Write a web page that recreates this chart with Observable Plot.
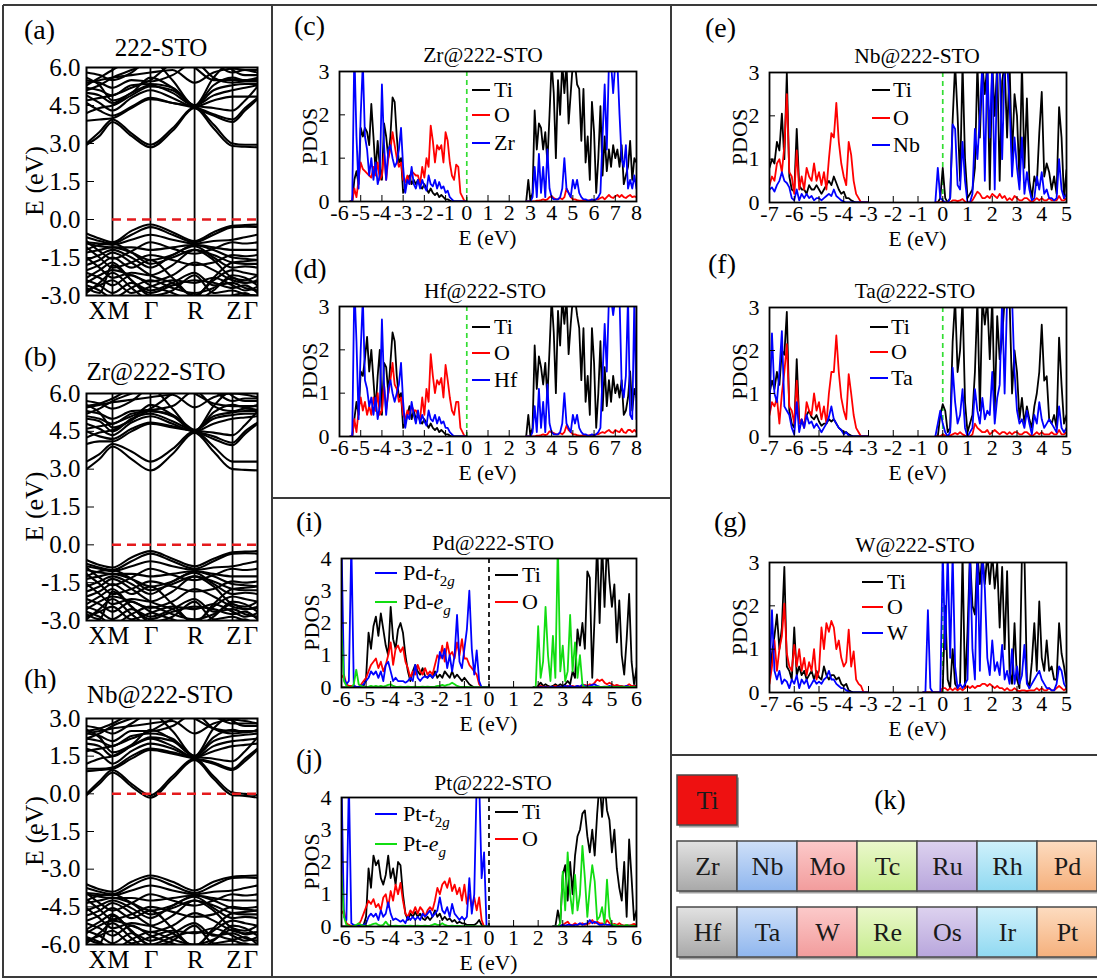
<!DOCTYPE html>
<html><head><meta charset="utf-8">
<script src="https://cdn.jsdelivr.net/npm/d3@7"></script>
<script src="https://cdn.jsdelivr.net/npm/@observablehq/plot@0.6"></script>
<style>
body{margin:0;background:#fff;}
#fig{position:relative;width:1097px;height:978px;overflow:hidden;background:#fff;}
</style></head><body>
<svg width="0" height="0" style="position:absolute"><defs>
<linearGradient id="g0" x1="0" y1="0" x2="0" y2="1"><stop offset="0" stop-color="#e2e2e2"/><stop offset="1" stop-color="#a8a8a8"/></linearGradient>
<linearGradient id="g1" x1="0" y1="0" x2="0" y2="1"><stop offset="0" stop-color="#cfe0f8"/><stop offset="1" stop-color="#8fb6ee"/></linearGradient>
<linearGradient id="g2" x1="0" y1="0" x2="0" y2="1"><stop offset="0" stop-color="#fccaca"/><stop offset="1" stop-color="#f29c9c"/></linearGradient>
<linearGradient id="g3" x1="0" y1="0" x2="0" y2="1"><stop offset="0" stop-color="#ebf8cc"/><stop offset="1" stop-color="#c6ec8e"/></linearGradient>
<linearGradient id="g4" x1="0" y1="0" x2="0" y2="1"><stop offset="0" stop-color="#ddd2ef"/><stop offset="1" stop-color="#b8a6dc"/></linearGradient>
<linearGradient id="g5" x1="0" y1="0" x2="0" y2="1"><stop offset="0" stop-color="#d0f1fb"/><stop offset="1" stop-color="#90d9f1"/></linearGradient>
<linearGradient id="g6" x1="0" y1="0" x2="0" y2="1"><stop offset="0" stop-color="#fddcc0"/><stop offset="1" stop-color="#f5b07c"/></linearGradient>
</defs></svg>
<div id="fig"></div>
<script>
// ---------------- band structure data ----------------
// k positions of samples along X-M-Γ-R-Z-Γ
const kGrid = [0, 0.076, 0.152, 0.263, 0.374, 0.503, 0.632, 0.743, 0.854, 0.927, 1.0];
const kPoints = [0, 0.152, 0.374, 0.632, 0.854, 1.0];
const kLabels = ["X", "M", "Γ", "R", "Z", "Γ"];
const kLabelPos = [0.064, 0.187, 0.378, 0.637, 0.862, 0.962];
const bandTicksA = [-3, -1.5, 0, 1.5, 3, 4.5, 6];
const bandTicksH = [-6, -4.5, -3, -1.5, 0, 1.5, 3];

const bandsA = [
  [2.95, 3.3, 3.85, 3.3, 2.85, 3.5, 4.4, 3.6, 2.9, 2.87, 2.85],
  [3.0, 3.45, 3.95, 3.4, 2.95, 3.6, 4.42, 3.75, 3.0, 2.95, 2.95],
  [3.9, 3.95, 4.0, 4.4, 4.75, 4.6, 4.4, 4.1, 3.85, 4.3, 4.75],
  [4.6, 4.3, 4.1, 4.45, 4.8, 4.6, 4.45, 4.15, 3.95, 4.4, 4.8],
  [4.9, 4.6, 4.3, 4.8, 5.1, 4.8, 4.45, 4.7, 4.85, 4.85, 4.85],
  [5.0, 4.9, 4.6, 5.0, 5.3, 5.0, 4.5, 4.9, 5.1, 5.2, 5.3],
  [5.2, 5.1, 4.9, 5.3, 5.35, 5.2, 4.5, 5.1, 5.3, 5.35, 5.35],
  [5.5, 5.4, 5.2, 5.5, 5.45, 5.7, 6.2, 5.6, 5.4, 5.45, 5.45],
  [5.3, 5.6, 5.9, 6.3, 6.5, 6.5, 6.0, 5.5, 5.5, 5.5, 5.5],
  [5.8, 5.7, 5.5, 5.8, 6.3, 5.5, 4.5, 5.6, 6.2, 6.1, 6.3],
  [4.7, 4.8, 4.9, 5.2, 5.5, 6.2, 6.6, 6.2, 5.8, 5.9, 5.9],
  [5.1, 5.3, 5.6, 5.9, 6.2, 6.6, 6.8, 6.6, 5.9, 5.7, 5.7],
  [5.6, 5.3, 4.7, 5.0, 5.6, 5.2, 4.5, 5.3, 5.6, 5.5, 5.6],
  [4.2, 4.4, 4.5, 4.9, 5.25, 5.1, 4.5, 4.4, 4.3, 4.7, 5.25],
  [5.4, 5.5, 5.6, 5.7, 5.8, 5.9, 5.4, 5.8, 5.95, 5.9, 5.8],
  [-0.55, -0.75, -0.9, -0.45, -0.2, -0.5, -0.85, -0.5, -0.25, -0.22, -0.2],
  [-0.7, -0.85, -0.95, -0.6, -0.3, -0.6, -0.9, -0.6, -0.3, -0.28, -0.3],
  [-0.9, -0.95, -1.0, -0.8, -0.6, -0.8, -0.95, -0.85, -0.8, -0.7, -0.6],
  [-0.95, -1.05, -1.1, -1.1, -1.2, -1.1, -1.0, -1.1, -1.2, -1.2, -1.2],
  [-1.3, -1.2, -1.1, -1.3, -1.6, -1.4, -1.0, -1.2, -1.5, -1.55, -1.6],
  [-1.6, -1.4, -1.2, -1.5, -1.9, -1.4, -1.05, -1.5, -1.9, -1.85, -1.9],
  [-1.8, -1.6, -1.3, -1.7, -2.2, -2.5, -3.0, -2.4, -2.0, -2.1, -2.2],
  [-2.0, -1.8, -1.5, -1.9, -1.6, -2.3, -3.05, -2.3, -1.7, -1.65, -1.6],
  [-2.1, -2.3, -2.6, -2.2, -2.6, -2.9, -3.2, -2.8, -2.2, -2.3, -2.6],
  [-2.4, -2.6, -2.9, -2.5, -2.8, -2.5, -2.1, -2.6, -2.5, -2.7, -2.8],
  [-2.7, -2.9, -1.8, -2.4, -3.0, -2.8, -2.2, -2.9, -2.8, -2.95, -3.0],
  [-2.9, -2.5, -2.1, -2.7, -3.2, -3.3, -3.5, -3.2, -3.0, -2.9, -3.2],
  [-1.5, -1.9, -2.3, -2.1, -2.2, -1.8, -1.2, -1.6, -2.3, -2.4, -2.2],
  [-0.85, -1.25, -1.55, -1.25, -0.9, -1.15, -1.35, -1.15, -0.9, -0.95, -0.9],
  [-1.1, -1.5, -1.9, -1.7, -1.4, -1.6, -1.8, -1.7, -1.4, -1.45, -1.4],
  [-2.3, -2.0, -1.7, -2.4, -2.9, -2.6, -2.4, -2.5, -2.7, -2.6, -2.9],
  [-2.6, -2.8, -3.1, -2.7, -2.4, -2.7, -2.9, -2.7, -2.3, -2.5, -2.4],
  [-1.2, -1.0, -0.95, -1.3, -1.75, -1.5, -1.2, -1.4, -1.7, -1.75, -1.75],
  [-2.5, -2.2, -2.0, -2.2, -2.45, -2.2, -1.7, -2.0, -2.4, -2.5, -2.45],
  [-2.8, -2.6, -2.4, -2.9, -2.65, -2.4, -2.5, -2.3, -2.6, -2.8, -2.65]
];
const bandsB = [
  [3.0, 3.4, 3.9, 3.4, 2.95, 3.6, 4.45, 3.7, 3.0, 2.97, 2.95],
  [3.3, 3.6, 4.0, 3.7, 3.3, 3.8, 4.5, 3.9, 3.3, 3.3, 3.3],
  [4.0, 4.1, 4.1, 4.5, 4.8, 4.65, 4.5, 4.2, 3.95, 4.4, 4.8],
  [4.5, 4.3, 4.2, 4.6, 4.85, 4.7, 4.5, 4.3, 4.05, 4.5, 4.85],
  [4.8, 4.6, 4.35, 4.85, 5.1, 4.8, 4.5, 4.8, 5.0, 5.05, 5.1],
  [5.0, 4.9, 4.5, 5.0, 5.2, 4.9, 4.55, 5.0, 5.15, 5.2, 5.2],
  [5.1, 5.0, 4.8, 5.2, 5.3, 5.1, 4.55, 5.1, 5.25, 5.3, 5.3],
  [5.3, 5.2, 5.0, 5.3, 5.35, 5.5, 6.1, 5.5, 5.3, 5.4, 5.35],
  [5.5, 5.6, 5.8, 6.2, 6.4, 6.3, 6.0, 5.6, 5.5, 5.5, 5.5],
  [5.7, 5.6, 5.4, 5.7, 6.2, 5.4, 4.5, 5.5, 6.1, 6.0, 6.2],
  [4.6, 4.7, 4.8, 5.1, 5.4, 6.0, 6.5, 6.1, 5.7, 5.8, 5.8],
  [5.2, 5.4, 5.7, 6.0, 6.3, 6.6, 6.8, 6.6, 5.9, 5.7, 5.7],
  [5.55, 5.25, 4.65, 4.95, 5.55, 5.15, 4.5, 5.25, 5.55, 5.45, 5.55],
  [4.25, 4.45, 4.55, 4.95, 5.3, 5.15, 4.55, 4.45, 4.35, 4.75, 5.3],
  [5.45, 5.55, 5.65, 5.75, 5.85, 5.95, 5.45, 5.85, 6.0, 5.95, 5.85],
  [-0.6, -0.8, -0.9, -0.5, -0.25, -0.55, -0.85, -0.55, -0.3, -0.27, -0.25],
  [-0.75, -0.9, -1.0, -0.65, -0.35, -0.65, -0.95, -0.65, -0.35, -0.33, -0.35],
  [-0.85, -0.95, -1.05, -0.85, -0.65, -0.85, -1.0, -0.9, -0.85, -0.75, -0.65],
  [-1.0, -1.1, -1.15, -1.15, -1.25, -1.15, -1.05, -1.15, -1.25, -1.25, -1.25],
  [-1.35, -1.25, -1.15, -1.35, -1.65, -1.45, -1.05, -1.25, -1.55, -1.6, -1.65],
  [-1.65, -1.45, -1.25, -1.55, -1.95, -1.45, -1.1, -1.55, -1.95, -1.9, -1.95],
  [-1.85, -1.65, -1.35, -1.75, -2.25, -2.55, -3.05, -2.45, -2.05, -2.15, -2.25],
  [-2.05, -1.85, -1.55, -1.95, -1.65, -2.35, -3.1, -2.35, -1.75, -1.7, -1.65],
  [-2.15, -2.35, -2.65, -2.25, -2.65, -2.95, -3.25, -2.85, -2.25, -2.35, -2.65],
  [-2.45, -2.65, -2.95, -2.55, -2.85, -2.55, -2.15, -2.65, -2.55, -2.75, -2.85],
  [-2.75, -2.95, -1.85, -2.45, -3.05, -2.85, -2.25, -2.95, -2.85, -3.0, -3.05],
  [-2.95, -2.55, -2.15, -2.75, -3.25, -3.35, -3.55, -3.25, -3.05, -2.95, -3.25],
  [-1.55, -1.95, -2.35, -2.15, -2.25, -1.85, -1.25, -1.65, -2.35, -2.45, -2.25],
  [-0.9, -1.3, -1.6, -1.3, -0.95, -1.2, -1.4, -1.2, -0.95, -1.0, -0.95],
  [-1.15, -1.55, -1.95, -1.75, -1.45, -1.65, -1.85, -1.75, -1.45, -1.5, -1.45],
  [-2.35, -2.05, -1.75, -2.45, -2.95, -2.65, -2.45, -2.55, -2.75, -2.65, -2.95],
  [-2.65, -2.85, -3.15, -2.75, -2.45, -2.75, -2.95, -2.75, -2.35, -2.55, -2.45],
  [-1.25, -1.05, -1.0, -1.35, -1.8, -1.55, -1.25, -1.45, -1.75, -1.8, -1.8],
  [-2.55, -2.25, -2.05, -2.25, -2.5, -2.25, -1.75, -2.05, -2.45, -2.55, -2.5],
  [-2.85, -2.65, -2.45, -2.95, -2.7, -2.45, -2.55, -2.35, -2.65, -2.85, -2.7]
];
const bandsH = [
  [-0.05, 0.4, 0.85, 0.3, -0.15, 0.6, 1.35, 0.6, -0.05, -0.08, -0.15],
  [0.0, 0.5, 0.95, 0.4, -0.05, 0.7, 1.4, 0.7, 0.05, 0.0, -0.05],
  [0.9, 0.95, 1.0, 1.4, 1.75, 1.6, 1.4, 1.2, 0.95, 1.3, 1.75],
  [1.0, 1.0, 1.05, 1.5, 1.8, 1.65, 1.42, 1.25, 1.0, 1.4, 1.8],
  [1.8, 1.6, 1.2, 1.7, 2.0, 1.8, 1.45, 1.7, 1.9, 1.95, 2.0],
  [2.0, 1.9, 1.5, 1.9, 2.2, 1.9, 1.45, 1.9, 2.1, 2.15, 2.2],
  [2.2, 2.1, 1.9, 2.3, 2.4, 2.2, 1.5, 2.1, 2.3, 2.35, 2.4],
  [2.4, 2.3, 2.1, 2.5, 2.5, 2.7, 3.2, 2.6, 2.4, 2.45, 2.5],
  [2.5, 2.6, 2.8, 3.2, 3.4, 3.3, 3.0, 2.6, 2.5, 2.5, 2.5],
  [2.7, 2.6, 2.4, 2.8, 3.2, 2.5, 1.5, 2.6, 3.1, 3.0, 3.2],
  [1.7, 1.8, 1.9, 2.2, 2.5, 3.0, 3.5, 3.1, 2.8, 2.8, 2.8],
  [2.2, 2.4, 2.7, 3.0, 3.3, 3.6, 3.8, 3.6, 2.9, 2.7, 2.7],
  [2.55, 2.25, 1.65, 1.95, 2.55, 2.15, 1.5, 2.25, 2.55, 2.45, 2.55],
  [1.2, 1.4, 1.5, 1.9, 2.25, 2.1, 1.5, 1.4, 1.3, 1.7, 2.25],
  [2.4, 2.5, 2.6, 2.7, 2.8, 2.9, 2.4, 2.8, 2.95, 2.9, 2.8],
  [-3.6, -3.8, -3.9, -3.5, -3.25, -3.5, -3.85, -3.5, -3.3, -3.27, -3.25],
  [-3.75, -3.9, -4.0, -3.65, -3.35, -3.65, -3.95, -3.65, -3.35, -3.33, -3.35],
  [-3.95, -4.0, -4.05, -3.85, -3.65, -3.85, -4.0, -3.9, -3.85, -3.75, -3.65],
  [-4.0, -4.1, -4.15, -4.15, -4.25, -4.15, -4.05, -4.15, -4.25, -4.25, -4.25],
  [-4.35, -4.25, -4.15, -4.35, -4.65, -4.45, -4.05, -4.25, -4.55, -4.6, -4.65],
  [-4.65, -4.45, -4.25, -4.55, -4.95, -4.45, -4.1, -4.55, -4.95, -4.9, -4.95],
  [-4.85, -4.65, -4.35, -4.75, -5.25, -5.55, -6.05, -5.45, -5.05, -5.15, -5.25],
  [-5.05, -4.85, -4.55, -4.95, -4.65, -5.35, -6.1, -5.35, -4.75, -4.7, -4.65],
  [-5.15, -5.35, -5.65, -5.25, -5.65, -5.95, -6.25, -5.85, -5.25, -5.35, -5.65],
  [-5.45, -5.65, -5.95, -5.55, -5.85, -5.55, -5.15, -5.65, -5.55, -5.75, -5.85],
  [-5.75, -5.95, -4.85, -5.45, -6.05, -5.85, -5.25, -5.95, -5.85, -6.0, -6.05],
  [-5.95, -5.55, -5.15, -5.75, -6.25, -6.35, -6.55, -6.25, -6.05, -5.95, -6.25],
  [-4.55, -4.95, -5.35, -5.15, -5.25, -4.85, -4.25, -4.65, -5.35, -5.45, -5.25],
  [-3.95, -4.35, -4.65, -4.35, -4.0, -4.25, -4.45, -4.25, -4.0, -4.05, -4.0],
  [-4.2, -4.6, -5.0, -4.8, -4.5, -4.7, -4.9, -4.8, -4.5, -4.55, -4.5],
  [-5.4, -5.1, -4.8, -5.5, -6.0, -5.7, -5.5, -5.6, -5.8, -5.7, -6.0],
  [-5.7, -5.9, -6.2, -5.8, -5.5, -5.8, -6.0, -5.8, -5.4, -5.6, -5.5],
  [-4.25, -4.05, -4.0, -4.35, -4.8, -4.55, -4.25, -4.45, -4.75, -4.8, -4.8],
  [-5.55, -5.25, -5.05, -5.25, -5.5, -5.25, -4.75, -5.05, -5.45, -5.55, -5.5],
  [-5.85, -5.65, -5.45, -5.95, -5.7, -5.45, -5.55, -5.35, -5.65, -5.85, -5.7]
];

// ---------------- PDOS data (0.1 eV sampling) ----------------
const dE = 0.1;
const ticksZr = [-6,-5,-4,-3,-2,-1,0,1,2,3,4,5,6,7,8];
const ticksNb = [-7,-6,-5,-4,-3,-2,-1,0,1,2,3,4,5];
const ticksPd = [-6,-5,-4,-3,-2,-1,0,1,2,3,4,5,6];
const ticksY3 = [0,1,2,3];
const ticksY4 = [0,1,2,3,4];

// (c) Zr@222-STO : valence from -5.5, conduction from 2.8
const cTiV = [0,0,0.5,0.7,0.4,1.7,1.5,1.7,1.6,1.3, 2.25,1.5,0.7,1.4,0.8,0.5,1.8,1.5,1.0,1.5, 2.4,2.3,1.5,0.9,1.0,0.2,0.3,0.5,0.6,0.4, 0.5,0.4,0.5,0.35,0.3,0.4,0.3,0.2,0.3,0.2, 0.15,0.2,0.1,0.15,0.1,0.05,0.05,0.02,0,0, 0,0,0,0,0,0];
const cOV  = [0,0,0.3,0.1,0.5,0.9,0.75,0.7,0.65,0.6, 0.55,0.8,0.6,0.9,0.5,0.6,1.1,0.5,1.0,1.2, 1.6,1.3,1.0,0.8,0.9,0.5,0.45,0.6,0.4,0.7, 0.65,0.6,0.6,0.4,0.8,0.55,1.0,0.8,1.75,1.4, 0.9,1.3,1.2,1.3,0.9,1.6,1.4,0.9,0.6,0.5, 0.85,0.8,0.2,0.1,0,0];
const cMV  = [0,0,3.5,1.5,0.3,2.0,3.2,1.5,1.2,0.6, 1.0,0.5,0.9,0.4,0.6,2.7,1.3,0.5,1.2,1.3, 1.0,0.8,0.9,1.2,1.7,0.8,0.2,0.5,0.4,0.8, 0.4,0.3,0.5,0.3,0.5,0.35,0.25,0.6,0.4,0.35, 0.5,0.3,0.45,0.3,0.35,0.2,0.25,0.1,0.05,0, 0,0,0,0,0,0];
const cTiC = [0,0.5,0,0.2,2.1,1.2,1.8,1.7,1.2,1.6, 0.9,2.0,3.2,2.5,1.0,2.8,2.0,3.2,2.5,3.2, 1.8,2.5,3.2,3.2,2.7,2.6,1.4,2.6,0.9,1.5, 0.5,2.3,1.6,0.2,1.0,2.2,0.6,1.5,0.7,1.2, 0.8,1.3,1.0,1.2,0.8,1.3,0.4,0.6,0.8,1.4, 0.5,1.0,0.9];
const cOC  = [0,0,0,0,0,0.02,0.02,0.03,0.05,0.03, 0.05,0.1,0.12,0.08,0.05,0.05,0.08,0.05,0.1,0.3, 0.2,0.1,0.05,0.05,0.03,0.02,0.02,0.03,0.02,0.02, 0.03,0.02,0.02,0.05,0.05,0.08,0.1,0.05,0.1,0.15, 0.1,0.08,0.12,0.15,0.1,0.15,0.1,0.08,0.12,0.15, 0.1,0.12,0.1];
const cMC  = [0,0,0,0.1,0.8,0.1,1.1,0.2,0.8,0.1, 1.2,0.3,0.1,0.05,0.05,0.05,0.1,0.3,1.0,0.3, 0.2,0.1,0.5,0.3,0.5,0.2,0.1,0.05,0.05,0.02, 0.02,0.05,0.02,0.05,0.1,0.2,1.5,2.7,1.2,3.2, 3.2,2.5,3.2,3.2,2.0,1.0,0.8,1.3,0.3,0.5, 0.3,0.6,0.3];

// (d) Hf@222-STO : valence from -5.5, conduction from 2.8
const dTiV = [0,0,0.4,0.8,0.5,1.5,1.4,1.8,2.3,1.5, 2.0,1.3,0.6,1.4,2.0,0.5,1.7,1.6,1.0,1.7, 2.4,2.2,1.4,0.9,1.0,0.2,0.3,0.5,0.7,0.4, 0.6,0.4,0.5,0.35,0.3,0.4,0.3,0.2,0.3,0.2, 0.15,0.2,0.1,0.15,0.1,0.05,0.05,0.02,0,0, 0,0,0,0,0,0];
const dOV  = [0,0,0.4,0.1,0.6,0.9,0.6,0.8,0.5,0.7, 0.5,0.9,0.6,1.0,0.5,0.6,1.2,0.6,1.0,1.3, 1.7,1.2,1.1,0.8,0.9,0.5,0.4,0.6,0.5,0.7, 0.6,0.6,0.5,0.4,0.9,0.5,1.1,0.8,1.9,1.4, 1.0,1.3,1.2,1.35,0.9,1.65,1.3,0.9,0.6,0.5, 0.8,0.8,0.2,0.1,0,0];
const dMV  = [0,0,3.5,2.2,0.4,2.0,3.2,1.3,1.1,0.7, 0.9,0.5,0.9,0.4,0.7,2.7,1.2,0.5,1.1,1.3, 1.0,0.8,1.0,1.2,1.7,0.8,0.2,0.5,0.4,0.8, 0.5,0.3,0.6,0.3,0.5,0.35,0.25,0.6,0.4,0.35, 0.5,0.3,0.45,0.3,0.35,0.2,0.2,0.1,0.05,0, 0,0,0,0,0,0];
const dTiC = [0,0.5,0,0.2,2.1,1.1,1.85,1.6,1.2,1.7, 0.9,2.0,3.2,2.4,1.0,2.9,2.1,3.2,2.6,3.2, 1.9,2.6,3.2,3.2,2.8,2.5,1.3,2.5,0.8,1.4, 0.5,2.5,1.7,0.2,1.0,2.2,0.6,1.6,0.7,1.3, 0.8,1.4,1.0,1.2,0.9,1.3,0.5,0.6,0.9,1.5, 0.6,1.1,0.9];
const dOC  = [0,0,0,0,0,0.02,0.02,0.03,0.05,0.03, 0.05,0.12,0.1,0.08,0.05,0.05,0.08,0.05,0.1,0.25, 0.15,0.1,0.05,0.05,0.03,0.02,0.02,0.03,0.02,0.02, 0.03,0.02,0.02,0.05,0.05,0.08,0.1,0.08,0.12,0.15, 0.1,0.08,0.15,0.12,0.1,0.18,0.1,0.08,0.15,0.15, 0.1,0.15,0.1];
const dMC  = [0,0,0,0.1,0.7,0.1,1.1,0.2,0.8,0.1, 1.2,0.3,0.1,0.05,0.05,0.05,0.1,0.3,1.0,0.3, 0.2,0.1,0.5,0.3,0.5,0.2,0.1,0.05,0.05,0.02, 0.02,0.05,0.02,0.05,0.1,0.2,1.4,2.6,1.5,3.2, 3.2,2.8,3.2,3.2,3.2,1.2,0.9,1.4,3.2,0.5, 0.4,3.2,0.4];

// (e) Nb@222-STO : valence from -7.0, conduction from -0.3
const eTiV = [0.8,1.0,0.9,1.4,1.2,2.05,1.0,3.0,0.6,0.3, 0.25,1.7,0.4,0.3,0.3,0.2,0.4,0.3,0.3,0.4, 0.3,0.2,0.3,0.4,0.5,0.4,0.6,0.45,0.3,0.2, 0.25,0.1,0.1,0.05,0.02,0,0,0,0,0,0];
const eOV  = [0.4,0.6,0.5,0.9,1.0,0.7,1.3,2.5,0.7,0.6, 0.2,1.2,0.3,0.6,0.3,0.8,0.6,0.5,0.9,0.5, 0.7,0.4,0.7,0.3,1.0,1.6,1.5,2.3,1.4,0.9, 0.6,0.4,1.4,1.1,0.5,0.2,0.1,0,0,0,0];
const eMV  = [0.3,0.35,0.25,0.4,0.5,0.7,0.5,0.45,0.35,0.1, 0.05,0.3,0.05,0.2,0.1,0.2,0.1,0.15,0.05,0.1, 0.1,0.05,0.1,0.15,0.2,0.15,0.3,0.15,0.1,0.05, 0.02,0,0,0,0,0,0,0,0,0,0];
const eTiC = [0,0,0.1,0.8,0.1,0,0.1,1.9,3.2,2.0, 0.5,3.2,1.0,0.1,0.2,0.3,0.8,3.2,1.5,3.2, 2.5,3.2,0.3,3.2,2.0,3.2,0.5,2.8,3.2,1.5, 3.2,1.0,2.5,2.0,0.5,3.2,0.8,2.4,0.5,0.1, 0.6,0.4,1.6,2.55,0.6,0.9,0.7,0.3,0.6,0.2, 2.2,1.5,0.1,0.75];
const eOC  = [0,0,0,0.02,0,0,0,0.05,0.05,0.03, 0.05,0.08,0.02,0,0,0.05,0.15,0.25,0.2,0.1, 0.1,0.15,0.1,0.2,0.15,0.1,0.2,0.1,0.15,0.05, 0.1,0.05,0.15,0.1,0.05,0.05,0.1,0.1,0.05,0, 0.05,0.1,0.05,0.1,0.05,0.05,0.1,0.05,0.05,0.05, 0.15,0.05,0.05,0.1];
const eMC  = [0,0.8,0.1,0.05,0,0,0.1,1.8,1.7,0.4, 0.3,1.4,0.5,0,0,0.2,1.7,1.0,2.0,3.2, 0.5,3.2,1.5,3.2,0.3,3.2,3.2,1.0,3.2,3.2, 2.3,0.6,1.5,0.8,0.3,1.5,0.2,0.7,0.3,0.05, 0.1,0.6,0.3,0.7,0.2,0.3,0.1,0.1,0.05,0.1, 1.0,0.3,0.1,0.2];

// (f) Ta@222-STO : valence from -7.0, conduction from -0.3
const fTiV = [1.0,1.3,1.1,1.5,1.2,2.0,1.9,2.9,0.6,0.3, 0.2,1.8,0.4,0.3,0.3,0.5,0.6,0.45,0.4,0.5, 0.35,0.25,0.3,0.3,0.4,0.35,0.4,0.3,0.2,0.15, 0.1,0.1,0.05,0.02,0,0,0,0,0,0,0];
const fOV  = [0.5,0.8,0.7,0.9,0.3,1.0,1.5,2.15,0.7,0.6, 0.3,1.3,0.3,0.4,0.2,0.8,0.6,0.5,1.0,0.6, 0.8,0.4,0.7,0.3,1.0,1.5,1.5,2.35,1.5,0.9, 0.6,0.4,1.45,1.0,0.5,0.2,0.1,0,0,0,0];
const fMV  = [0.6,2.4,1.0,0.8,1.5,2.45,0.7,0.6,0.5,0.2, 0.05,0.8,0.1,0.4,0.2,0.5,0.3,0.35,0.2,0.3, 0.2,0.1,0.2,0.3,0.45,0.7,0.4,0.3,0.2,0.15, 0.05,0.1,0.02,0,0,0,0,0,0,0,0];
const fTiC = [0,0,0.5,0.75,0.6,0.1,0.2,2.2,3.2,1.5, 2.0,3.2,0.8,0.1,0.3,0.5,1.5,3.2,0.6,3.2, 2.6,3.2,1.8,3.2,0.6,2.8,1.8,2.3,3.2,3.2, 3.2,1.0,2.0,1.5,0.4,0.9,0.3,0.7,0.4,0.2, 0.7,1.0,1.5,2.6,1.3,1.4,0.4,0.3,0.5,0.2, 2.3,1.2,0.3,0.5];
const fOC  = [0,0,0,0.05,0.02,0,0.02,0.05,0.08,0.05, 0.1,0.05,0.02,0,0,0.05,0.3,0.2,0.15,0.1, 0.1,0.15,0.05,0.1,0.15,0.1,0.05,0.1,0.1,0.05, 0.1,0.05,0.1,0.1,0.05,0.05,0.1,0.1,0.05,0, 0.05,0.1,0.05,0.1,0.05,0.05,0.05,0.1,0.05,0.05, 0.15,0.05,0.05,0.1];
const fMC  = [0,0.3,0.6,0.3,0.1,0,0.1,1.6,0.8,0.3, 0.5,1.1,0.2,0,0.1,0.2,1.1,0.6,0.3,0.9, 0.4,0.6,0.5,1.5,0.3,0.9,1.2,3.2,1.0,3.2, 3.2,3.2,1.5,0.6,0.3,0.4,0.2,0.6,0.3,0.05, 0.5,0.3,0.8,0.4,0.2,0.3,0.4,0.3,0.2,0.1, 0.7,0.2,0.1,0.2];

// (g) W@222-STO : valence from -7.0, conduction from -0.8
const gTiV = [0.3,0.9,1.3,1.8,1.0,1.5,2.9,0.6,0.5,0.3, 1.5,0.4,0.6,0.4,0.5,0.3,0.4,0.5,0.3,0.5, 0.35,0.3,0.6,0.4,0.3,0.4,0.4,0.3,0.35,0.2, 0.15,0.2,0.05,0.02,0,0,0,0,0,0,0];
const gOV  = [0.2,0.6,1.2,0.5,1.0,1.3,2.05,0.9,0.6,0.5, 1.1,0.6,1.0,0.5,0.8,0.4,0.7,0.5,1.0,0.3, 0.5,1.5,1.0,1.6,1.4,1.65,1.5,1.0,1.2,0.8, 0.6,0.7,1.45,0.6,0.95,0.3,0.2,0.15,0,0,0];
const gMV  = [0.4,1.9,0.5,0.3,0.5,0.2,0.3,0.25,0.1,0.3, 0.2,0.4,0.1,0.3,0.2,0.3,0.1,0.2,0.3,0.2, 0.25,0.2,0.3,0.35,0.5,0.3,0.3,0.2,0.15,0.1, 0.1,0.05,0.02,0,0,0,0,0,0,0,0];
const gTiC = [0,0,0,0,0,0,0,0,0.1,2.0, 0.3,0.1,1.0,0.2,0.1,0.2,3.2,0.1,1.4,3.2, 2.0,1.8,3.2,2.5,3.2,2.5,3.2,2.5,3.2,2.4, 3.0,1.5,2.9,1.0,2.8,0.5,0.2,1.6,0.3,0.1, 3.2,3.2,0.3,0.1,0.7,1.6,0.5,2.1,0.8,0.5, 1.2,0.5,0.6,0.3,0.3,1.6,0.9,0.6,0.2];
const gOC  = [0,0,0,0,0,0,0,0,0.1,0.1, 0.05,0.1,0.05,0.1,0.05,0.1,0.05,0.1,0.15,0.1, 0.15,0.1,0.15,0.15,0.2,0.2,0.15,0.2,0.15,0.1, 0.15,0.1,0.1,0.05,0.1,0.05,0.05,0.1,0.05,0.03, 0.05,0.05,0.03,0.05,0.05,0.05,0.1,0.05,0.1,0.05, 0.05,0.1,0.05,0.05,0.1,0.15,0.1,0.05,0.1];
const gMC  = [0,0,1.9,0.1,0,0,0,0,3.2,1.0, 3.2,0.8,3.2,0.6,0.1,0.2,0.1,0.2,0.3,3.2, 1.0,0.3,3.2,0.5,3.2,2.4,0.8,0.4,1.2,0.5, 0.7,0.4,1.1,0.3,0.5,0.2,1.0,0.2,0.6,0.2, 0.4,1.1,0.2,0.1,0.2,0.3,0.4,0.5,0.3,0.2, 0.1,0.1,0.05,0.05,0.2,0.6,0.5,0.2,0.1];

// (i) Pd@222-STO : valence from -6.0, conduction from 1.8
const iT2V = [4.5,0.3,0.1,0.2,4.5,0.05,0.02,0.02,0.05,0.1, 0.2,0.3,0.5,0.4,0.5,0.3,0.5,0.2,0.7,0.8, 0.5,0.2,0.3,0.2,0.2,0.2,0.15,0.2,0.3,0.2, 0.7,0.3,0.2,0.3,0.35,0.3,0.4,0.3,0.4,0.5, 1.1,0.9,1.2,0.6,1.0,0.5,1.0,2.25,0.8,0.6, 1.2,1.8,3.0,1.2,0.4,1.15,0.2,0,0,0,0];
const iEgV = [1.8,0.2,0.05,0,0,0.1,0.55,0.1,0.05,0.02, 0.02,0.03,0.05,0.03,0.05,0.03,0.05,0.03,0.05,0.08, 0.1,0.05,0.03,0.02,0.03,0.02,0.02,0.03,0.02,0.02, 0.03,0.02,0.02,0.03,0.02,0.03,0.02,0.02,0.03,0.05, 0.05,0.08,0.05,0.08,0.1,0.15,0.1,0.05,0.03,0.02, 0.02,0.02,0.01,0.01,0,0,0,0,0,0,0];
const iTiV = [0,0,0,0,0,0,0,0,0,0.05, 0.3,1.7,1.2,1.9,2.2,1.6,2.3,1.8,1.3,1.0, 2.5,1.5,1.2,1.8,2.0,1.7,1.0,0.5,0.2,0.5, 0.7,0.5,0.4,0.6,0.35,0.3,0.4,0.3,0.5,0.3, 0.4,0.3,0.5,0.4,0.3,0.5,0.3,0.4,0.3,0.2, 0.3,0.2,0.1,0.05,0,0,0,0,0,0,0];
const iOV  = [0.3,0.4,0.1,0.05,0.05,0.05,0.02,0.02,0.1,0.2, 0.3,0.5,0.7,0.8,0.9,0.6,0.8,0.5,0.7,1.0, 1.4,0.7,1.2,1.3,1.1,1.25,0.8,0.6,0.3,0.5, 0.4,0.7,0.5,0.4,0.6,0.4,0.5,0.4,0.7,1.0, 0.9,1.3,0.8,1.4,1.0,1.1,0.9,1.4,1.0,1.5, 0.9,0.9,0.7,0.6,0.5,0.4,0.1,0,0,0,0];
const iT2C = [0,0,0,0.02,0,0.02,0,0.02,0.02,0, 0.02,0.03,0.02,0.05,0.03,0.05,0.02,0.03,0.05,0.02, 0.1,0.05,0.03,0.05,0.08,0.1,0.05,0.03,0.02,0.03, 0.02,0.05,0.03,0.02,0.03,0.02,0.03,0.02,0.05,0.03, 0.02,0.03,0.02];
const iEgC = [0,0,1.9,0.3,0.8,2.5,1.0,0.2,1.6,0.3, 4.5,0.5,1.3,0.2,0.5,2.25,0.5,1.4,0.3,1.0, 0.1,0,0,0.02,0.02,0.02,0.03,0.02,0.02,0.02, 0.03,0.02,0.02,0.02,0.02,0.02,0.03,0.02,0.02,0.02, 0.02,0.02,0.02];
const iTiC = [0,0,0.05,0.15,0.05,0.1,0.05,0.02,0.05,0.1, 0.05,0.1,0.05,0.1,0.2,0.1,0.5,0.3,1.8,1.3, 2.0,1.2,3.6,3.4,0.3,2.3,4.5,2.0,4.5,2.5, 4.5,3.3,2.5,3.2,1.4,2.7,1.0,0.4,1.5,2.9, 0.8,0.1,0.6];
const iOC  = [0,0,0.02,0.05,0.02,0.03,0.02,0.02,0.03,0.05, 0.02,0.03,0.02,0.03,0.05,0.03,0.05,0.02,0.05,0.03, 0.05,0.08,0.05,0.1,0.08,0.15,0.25,0.2,0.25,0.15, 0.1,0.15,0.1,0.05,0.08,0.05,0.05,0.03,0.05,0.1, 0.05,0.05,0.05];

// (j) Pt@222-STO : valence from -6.0, conduction from 2.6
const jT2V = [4.5,0.3,0.2,4.5,0.1,0.05,0.02,0.02,0.05,0.05, 0.1,0.3,0.4,0.3,0.4,0.2,0.5,0.3,0.4,0.75, 0.4,0.2,0.25,0.2,0.15,0.2,0.1,0.3,0.2,0.3, 0.2,0.3,0.2,0.4,0.3,0.4,0.5,0.3,0.4,0.5, 0.9,0.5,0.4,0.6,0.3,0.7,0.4,0.3,0.2,0.3, 0.2,0.3,1.5,0.4,1.0,4.5,4.5,1.5,2.3,0,0];
const jEgV = [1.6,0.3,0.05,0.02,0,0.02,0.05,0.1,0.05,0.02, 0.02,0.03,0.05,0.08,0.1,0.05,0.03,0.05,0.15,0.05, 0.03,0.02,0.03,0.02,0.02,0.03,0.02,0.02,0.03,0.02, 0.02,0.03,0.02,0.02,0.03,0.02,0.03,0.05,0.08,0.05, 0.05,0.1,0.05,0.03,0.02,0.03,0.02,0.02,0.02,0.01, 0.01,0.01,0.01,0.01,0,0,0,0,0,0,0];
const jTiV = [0,0,0,0,0,0,0,0,0,0.05, 0.3,1.8,1.2,2.2,1.9,2.05,1.5,1.3,1.6,2.2, 1.5,1.8,1.3,2.0,1.9,1.0,0.4,0.2,0.4,0.3, 0.45,0.3,0.4,0.25,0.2,0.3,0.2,0.3,0.5,0.3, 0.4,0.2,0.3,0.2,0.25,0.15,0.2,0.1,0.15,0.1, 0.1,0.05,0.05,0.05,0.05,0.1,0.2,0.05,0,0,0];
const jOV  = [0.4,0.5,0.1,0.05,0.02,0.02,0.02,0.05,0.2,0.4, 0.6,0.8,0.7,0.85,0.6,0.7,0.5,0.9,1.0,0.6, 1.1,0.8,1.3,1.0,1.35,0.8,0.4,0.3,0.5,0.4, 0.6,0.4,0.6,0.5,0.3,0.5,0.6,0.5,0.8,1.2, 1.0,1.3,1.4,1.2,1.5,1.1,1.3,1.0,1.2,0.8, 1.3,0.7,1.0,0.6,0.9,0.5,0.9,0.2,0,0,0];
const jT2C = [0,0,0,0.02,0.05,0.03,0.05,0.05,0.03,0.05, 0.05,0.1,0.05,0.08,0.1,0.2,0.1,0.15,0.1,0.05, 0.05,0.08,0.05,0.05,0.03,0.05,0.03,0.02,0.03,0.02, 0.02,0.03,0.02,0.02,0.02];
const jEgC = [0,0,0,0.1,1.7,0.5,2.3,1.0,0.4,1.6, 0.5,1.0,2.5,1.5,0.3,1.2,1.9,1.4,0.2,0.3, 0.6,0.1,1.45,0.3,0.05,0.05,0.03,0.02,0.03,0.02, 0.05,0.02,0.03,0.02,0.02];
const jTiC = [0,0,0.5,0.1,1.6,1.9,0.8,2.0,1.0,2.2, 2.8,3.0,3.5,3.6,2.8,2.3,3.0,2.2,3.5,4.5, 3.4,4.5,3.6,3.3,2.3,3.0,1.8,1.2,0.8,2.0, 0.3,2.7,1.5,0.2,0.5];
const jOC  = [0,0,0,0.02,0.05,0.1,0.15,0.05,0.05,0.1, 0.05,0.08,0.1,0.05,0.08,0.1,0.2,0.1,0.15,0.1, 0.1,0.05,0.2,0.1,0.05,0.08,0.05,0.1,0.05,0.03, 0.05,0.03,0.05,0.08,0.05];

// (k) element table
const tiCell = ["Ti"];
const row4d = ["Zr", "Nb", "Mo", "Tc", "Ru", "Rh", "Pd"];
const row5d = ["Hf", "Ta", "W", "Re", "Os", "Ir", "Pt"];

// ---------------- rendering ----------------
const serif = "'Liberation Serif','Times New Roman',serif";
const fig = document.getElementById("fig");
const BLACK = "#000", RED = "#ff0000", BLUE = "#0000ff", GREEN = "#11dd11", ZGREEN = "#33dd33";

function place(node, left, top) {
  const d = document.createElement("div");
  d.style.cssText = `position:absolute;left:${left}px;top:${top}px;line-height:0;`;
  d.appendChild(node);
  fig.appendChild(d);
}

function bandPanel(frame, bands, yDomain, yTicks) {
  const mL = 80, mR = 8, mT = 8, mB = 38;
  const rows = [];
  bands.forEach((b, bi) => b.forEach((e, i) => rows.push({band: bi, k: kGrid[i], e})));
  const labelOf = new Map(kLabelPos.map((p, i) => [p, kLabels[i]]));
  const svg = Plot.plot({
    width: frame.w + mL + mR, height: frame.h + mT + mB,
    marginLeft: mL, marginRight: mR, marginTop: mT, marginBottom: mB,
    style: {fontFamily: serif, fontSize: "25px", background: "transparent", color: "#000", overflow: "visible"},
    x: {domain: [0, 1]},
    y: {domain: yDomain},
    marks: [
      Plot.line(rows, {x: "k", y: "e", z: "band", curve: "monotone-x", stroke: BLACK, strokeWidth: 2.1, clip: true}),
      Plot.ruleX(kPoints.slice(1, -1), {stroke: BLACK, strokeWidth: 1.8}),
      Plot.ruleY([0], {x1: kPoints[1], x2: kPoints[5], stroke: "#e41a1c", strokeWidth: 2.5, strokeDasharray: "9,6"}),
      Plot.axisY({ticks: yTicks, tickSize: -8, tickPadding: 14, tickFormat: d => d.toFixed(1), label: null}),
      Plot.axisX({ticks: kLabelPos, tickSize: 0, tickPadding: 6, tickFormat: d => labelOf.get(d), label: null, fontSize: 25}),
      Plot.frame({stroke: BLACK, strokeWidth: 2})
    ]
  });
  place(svg, frame.x - mL, frame.y - mT);
}

function pdosPanel(frame, xTicks, yTicks, parts, zeroColor) {
  const mL = 40, mR = 8, mT = 8, mB = 32;
  const marks = [Plot.ruleX([0], {stroke: zeroColor, strokeWidth: 1.7, strokeDasharray: "5,4"})];
  for (const p of parts) {
    const rows = p.values.map((v, i) => ({E: p.start + i * dE, v}));
    marks.push(Plot.line(rows, {x: "E", y: "v", stroke: p.color, strokeWidth: 1.8, clip: true}));
  }
  marks.push(
    Plot.axisX({ticks: xTicks, tickSize: -6, tickPadding: 9, tickFormat: d => String(d), label: null}),
    Plot.axisY({ticks: yTicks, tickSize: -6, tickPadding: 16, tickFormat: d => String(d), label: null}),
    Plot.frame({stroke: BLACK, strokeWidth: 1.8})
  );
  const svg = Plot.plot({
    width: frame.w + mL + mR, height: frame.h + mT + mB,
    marginLeft: mL, marginRight: mR, marginTop: mT, marginBottom: mB,
    style: {fontFamily: serif, fontSize: "22px", background: "transparent", color: "#000", overflow: "visible"},
    x: {domain: [xTicks[0], xTicks[xTicks.length - 1]]},
    y: {domain: [yTicks[0], yTicks[yTicks.length - 1]]},
    marks
  });
  place(svg, frame.x - mL, frame.y - mT);
}

// frames (pixel layout)
const FA = {x: 86, y: 67, w: 171, h: 228}, FB = {x: 86, y: 393, w: 171, h: 227}, FH = {x: 86, y: 718, w: 171, h: 226};
const FC = {x: 339, y: 71, w: 297, h: 130}, FD = {x: 339, y: 306, w: 297, h: 130};
const FI = {x: 341, y: 558, w: 295, h: 129}, FJ = {x: 341, y: 797, w: 295, h: 129};
const FE = {x: 769, y: 72, w: 297, h: 130}, FF = {x: 769, y: 307, w: 297, h: 129}, FG = {x: 769, y: 562, w: 297, h: 130};

bandPanel(FA, bandsA, [-3, 6], bandTicksA);
bandPanel(FB, bandsB, [-3, 6], bandTicksA);
bandPanel(FH, bandsH, [-6, 3], bandTicksH);

pdosPanel(FC, ticksZr, ticksY3, [
  {start: -5.5, values: cTiV, color: BLACK}, {start: 2.8, values: cTiC, color: BLACK},
  {start: -5.5, values: cOV, color: RED}, {start: 2.8, values: cOC, color: RED},
  {start: -5.5, values: cMV, color: BLUE}, {start: 2.8, values: cMC, color: BLUE}], ZGREEN);
pdosPanel(FD, ticksZr, ticksY3, [
  {start: -5.5, values: dTiV, color: BLACK}, {start: 2.8, values: dTiC, color: BLACK},
  {start: -5.5, values: dOV, color: RED}, {start: 2.8, values: dOC, color: RED},
  {start: -5.5, values: dMV, color: BLUE}, {start: 2.8, values: dMC, color: BLUE}], ZGREEN);
pdosPanel(FE, ticksNb, ticksY3, [
  {start: -7.0, values: eTiV, color: BLACK}, {start: -0.3, values: eTiC, color: BLACK},
  {start: -7.0, values: eOV, color: RED}, {start: -0.3, values: eOC, color: RED},
  {start: -7.0, values: eMV, color: BLUE}, {start: -0.3, values: eMC, color: BLUE}], ZGREEN);
pdosPanel(FF, ticksNb, ticksY3, [
  {start: -7.0, values: fTiV, color: BLACK}, {start: -0.3, values: fTiC, color: BLACK},
  {start: -7.0, values: fOV, color: RED}, {start: -0.3, values: fOC, color: RED},
  {start: -7.0, values: fMV, color: BLUE}, {start: -0.3, values: fMC, color: BLUE}], ZGREEN);
pdosPanel(FG, ticksNb, ticksY3, [
  {start: -7.0, values: gTiV, color: BLACK}, {start: -0.8, values: gTiC, color: BLACK},
  {start: -7.0, values: gOV, color: RED}, {start: -0.8, values: gOC, color: RED},
  {start: -7.0, values: gMV, color: BLUE}, {start: -0.8, values: gMC, color: BLUE}], ZGREEN);
pdosPanel(FI, ticksPd, ticksY4, [
  {start: -6.0, values: iTiV, color: BLACK}, {start: 1.8, values: iTiC, color: BLACK},
  {start: -6.0, values: iOV, color: RED}, {start: 1.8, values: iOC, color: RED},
  {start: -6.0, values: iT2V, color: BLUE}, {start: 1.8, values: iT2C, color: BLUE},
  {start: -6.0, values: iEgV, color: GREEN}, {start: 1.8, values: iEgC, color: GREEN}], "#000");
pdosPanel(FJ, ticksPd, ticksY4, [
  {start: -6.0, values: jTiV, color: BLACK}, {start: 2.6, values: jTiC, color: BLACK},
  {start: -6.0, values: jOV, color: RED}, {start: 2.6, values: jOC, color: RED},
  {start: -6.0, values: jT2V, color: BLUE}, {start: 2.6, values: jT2C, color: BLUE},
  {start: -6.0, values: jEgV, color: GREEN}, {start: 2.6, values: jEgC, color: GREEN}], "#000");

// (k) element table drawn with Plot cells
{
  const cells = [{name: tiCell[0], row: "r0", col: 0, fill: "#ee1111"}];
  row4d.forEach((n, i) => cells.push({name: n, row: "r1", col: i, fill: `url(#g${i})`}));
  row5d.forEach((n, i) => cells.push({name: n, row: "r2", col: i, fill: `url(#g${i})`}));
  const svg = Plot.plot({
    width: 421, height: 183, margin: 0,
    style: {fontFamily: serif, fontSize: "26px", background: "transparent", color: "#000", overflow: "visible"},
    x: {type: "band", domain: [0, 1, 2, 3, 4, 5, 6], paddingInner: 0, paddingOuter: 0, axis: null},
    y: {type: "band", domain: ["r0", "r1", "r2"], paddingInner: 0.25, paddingOuter: 0, axis: null},
    color: {type: "identity"},
    marks: [
      Plot.cell(cells, {x: "col", y: "row", fill: "#555", fillOpacity: 0.55, dx: 2, dy: 2.5}),
      Plot.cell(cells, {x: "col", y: "row", fill: "fill", stroke: "#4a4a4a", strokeWidth: 1.5}),
      Plot.text(cells, {x: "col", y: "row", text: "name", fill: "#1a1a1a", fontSize: 26})
    ]
  });
  place(svg, 676, 774);
}

// ---------------- overlay: borders, letters, titles, labels, legends ----------------
const ov = d3.create("svg").attr("width", 1097).attr("height", 978)
  .style("position", "absolute").style("left", "0px").style("top", "0px")
  .style("font-family", serif);
const borders = [[3, 5, 1097, 5], [3, 5, 3, 978], [3, 977, 1097, 977], [272, 5, 272, 978], [671, 5, 671, 978], [272, 498, 671, 498], [671, 755, 1097, 755]];
for (const [x1, y1, x2, y2] of borders)
  ov.append("line").attr("x1", x1).attr("y1", y1).attr("x2", x2).attr("y2", y2).attr("stroke", "#3a3a3a").attr("stroke-width", 2);

function txt(x, y, s, size, anchor = "start") {
  return ov.append("text").attr("x", x).attr("y", y).attr("font-size", size).attr("text-anchor", anchor).attr("fill", "#000").text(s);
}
function vtxt(cx, cy, s, size) {
  ov.append("text").attr("transform", `translate(${cx},${cy}) rotate(-90)`).attr("font-size", size)
    .attr("text-anchor", "middle").attr("dominant-baseline", "central").attr("fill", "#000").text(s);
}
// panel letters
[["(a)", 24, 39], ["(b)", 24, 366], ["(h)", 24, 688], ["(c)", 294, 35], ["(d)", 294, 278], ["(i)", 296, 531], ["(j)", 296, 768],
 ["(e)", 705, 37], ["(f)", 708, 273], ["(g)", 714, 531]].forEach(([s, x, y]) => txt(x, y, s, 28));
txt(890, 809, "(k)", 27, "middle");
// titles
[["222-STO", 161, 56, 25], ["Zr@222-STO", 156, 380, 25], ["Nb@222-STO", 160, 703, 25],
 ["Zr@222-STO", 483, 62, 21.5], ["Hf@222-STO", 485, 298, 21.5], ["Pd@222-STO", 493, 550, 21.5], ["Pt@222-STO", 493, 790, 21.5],
 ["Nb@222-STO", 917, 63, 21.5], ["Ta@222-STO", 915, 298, 21.5], ["W@222-STO", 915, 552, 21.5]].forEach(([s, x, y, f]) => txt(x, y, s, f, "middle"));
// axis labels
for (const F of [FA, FB, FH]) vtxt(F.x - 52, F.y + F.h / 2, "E (eV)", 26);
for (const F of [FC, FD, FI, FJ, FE, FF, FG]) {
  vtxt(F.x - 30, F.y + F.h / 2, "PDOS", 22);
  txt(F.x + F.w / 2, F.y + F.h + 44, "E (eV)", 21.5, "middle");
}
// legends
function legend(x1, x2, tx, y, color, parts) {
  ov.append("line").attr("x1", x1).attr("x2", x2).attr("y1", y).attr("y2", y).attr("stroke", color).attr("stroke-width", 2);
  const t = ov.append("text").attr("x", tx).attr("y", y + 7).attr("font-size", 22).attr("fill", "#000");
  for (const p of parts) {
    const s = t.append("tspan").text(p.t);
    if (p.i) s.attr("font-style", "italic");
    if (p.sub) s.attr("font-size", 15).attr("dy", p.dy);
    else if (p.dy) s.attr("dy", p.dy);
  }
}
const plain = s => [{t: s}];
[[472, 490, 494, [90, 115, 143], ["Ti", "O", "Zr"]], [472, 490, 494, [327, 353, 380], ["Ti", "O", "Hf"]],
 [872, 890, 893, [90, 118, 145], ["Ti", "O", "Nb"]], [870, 888, 891, [327, 352, 378], ["Ti", "O", "Ta"]],
 [862, 883, 887, [582, 607, 633], ["Ti", "O", "W"]]].forEach(([x1, x2, tx, ys, names]) => {
  legend(x1, x2, tx, ys[0], BLACK, plain(names[0]));
  legend(x1, x2, tx, ys[1], RED, plain(names[1]));
  legend(x1, x2, tx, ys[2], BLUE, plain(names[2]));
});
[["Pd", 573, 602, 575, 602], ["Pt", 814, 844, 812, 839]].forEach(([el, yt, ye, yti, yo]) => {
  legend(375, 397, 403, yt, BLUE, [{t: el + "-"}, {t: "t", i: true}, {t: "2", sub: true, dy: 6}, {t: "g", i: true, sub: true, dy: 0}]);
  legend(375, 397, 403, ye, GREEN, [{t: el + "-"}, {t: "e", i: true}, {t: "g", i: true, sub: true, dy: 6}]);
  legend(495, 518, 522, yti, BLACK, plain("Ti"));
  legend(495, 518, 522, yo, RED, plain("O"));
});
fig.appendChild(ov.node());
</script></body></html>
